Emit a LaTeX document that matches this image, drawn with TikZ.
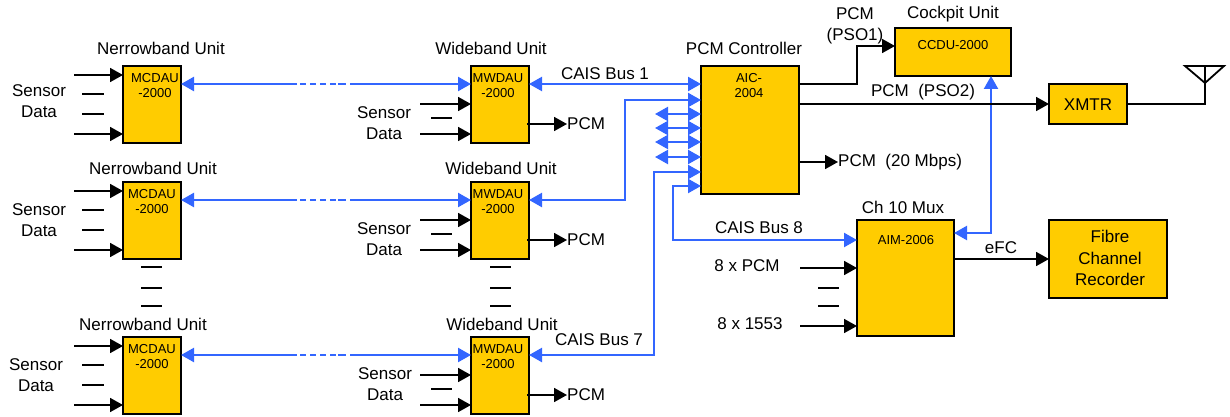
\documentclass[tikz,border=0pt]{standalone}
\usepackage{fontspec}
\usepackage{tikz}
\usetikzlibrary{arrows.meta}
\setmainfont{Liberation Sans}
\definecolor{unitfill}{HTML}{FFCC00}
\definecolor{busblue}{HTML}{3366FF}
\tikzset{
    unitbox/.style={draw=black,line width=2pt,fill=unitfill,inner sep=0pt,outer sep=0pt},
    txt/.style={inner sep=0pt,font=\fontsize{17}{21.5}\selectfont,align=center},
    boxtxt/.style={inner sep=0pt,font=\fontsize{13}{15.5}\selectfont,align=center},
    sig/.style={line width=1.8pt,->},
    tick/.style={line width=1.8pt},
    busline/.style={line width=2.3pt,busblue,<->}
}
\begin{document}
\begin{tikzpicture}[x=1pt,y=-1pt,>={Triangle[length=13pt,width=14pt]}]
    \useasboundingbox (0,0) rectangle (1230,417);
    % three rows of acquisition units
    \foreach \r/\top/\nx/\wx/\ty/\sx/\sy/\wsx/\wsy/\lx in
        {1/66/161/491/48/39/101/384/123/155,
         2/182/153/501/168/39/220/384/239/152,
         3/337/143/502/324/36/375/385/384/152}
    {
        \node[unitbox,minimum width=58,minimum height=76.5,anchor=north] (n\r) at (152,\top) {};
        \node[unitbox,minimum width=58,minimum height=76.5,anchor=north] (w\r) at (500,\top) {};
        \node[txt] (nt\r) at (\nx,\ty) {Nerrowband Unit};
        \node[txt] (wt\r) at (\wx,\ty) {Wideband Unit};
        \node[boxtxt,anchor=north] (nl\r) at (\lx,{\top+7}) {MCDAU\\-2000};
        \node[boxtxt,anchor=north] (wl\r) at (498,{\top+7}) {MWDAU\\-2000};
        \node[txt] (ns\r) at (\sx,\sy) {Sensor\\Data};
        \node[txt] (ws\r) at (\wsx,\wsy) {Sensor\\Data};
        % inputs, narrowband side
        \coordinate (na\r) at (74,{\top+9});
        \coordinate (nb\r) at (74,{\top+68});
        \draw[sig] (na\r) -- (na\r -| n\r.west);
        \draw[sig] (nb\r) -- (nb\r -| n\r.west);
        \draw[tick] (82,{\top+28}) -- (104,{\top+28});
        \draw[tick] (82,{\top+48}) -- (104,{\top+48});
        % inputs, wideband side
        \coordinate (wa\r) at (420,{\top+38});
        \coordinate (wb\r) at (420,{\top+68});
        \draw[sig] (wa\r) -- (wa\r -| w\r.west);
        \draw[sig] (wb\r) -- (wb\r -| w\r.west);
        \draw[tick] (431,{\top+52}) -- (452,{\top+52});
        % pcm output
        \node[txt,anchor=west] (wp\r) at (567,{\top+58}) {PCM};
        \draw[sig,shorten <=-2pt] (w\r.east |- wp\r) -- (wp\r);
        % link between the units
        \coordinate (gapa\r) at (297,{\top+18});
        \coordinate (gapb\r) at (350,{\top+18});
        \draw[busline,->] (gapb\r) -- (gapb\r -| w\r.west);
        \draw[busline,->] (gapa\r) -- (gapa\r -| n\r.east);
        \draw[busline,-,dash pattern=on 0pt off 3pt on 6pt off 4pt on 6pt off 4pt on 6pt off 4pt on 6pt off 2pt on 8pt off 4pt] (gapa\r) -- (gapb\r);
    }
    \foreach \y in {267,288,306}
    {
        \draw[tick] (141,\y) -- (162,\y);
        \draw[tick] (490,\y) -- (511,\y);
    }
    % controller and the other boxes
    \node[unitbox,minimum width=98,minimum height=128,anchor=north] (ctrl) at (750,66) {};
    \node[unitbox,minimum width=116,minimum height=48,anchor=north] (ccdu) at (953,28) {};
    \node[unitbox,minimum width=78,minimum height=40,anchor=north] (xmtr) at (1088,84) {};
    \node[unitbox,minimum width=97,minimum height=116,anchor=north] (mux) at (905.5,220) {};
    \node[unitbox,minimum width=118,minimum height=78,anchor=north] (rec) at (1108,220) {};
    \node[txt] (xmtrl) at (1088,105) {XMTR};
    \node[txt] (recl) at (1110,258) {Fibre\\Channel\\Recorder};
    \node[boxtxt,anchor=north] (ctrll) at (749,73) {AIC-\\2004};
    \node[boxtxt] (ccdul) at (953,45) {CCDU-2000};
    \node[boxtxt] (muxl) at (906,240) {AIM-2006};
    \node[txt] (ctrlt) at (744,48) {PCM Controller};
    \node[txt] (ccdut) at (953,14) {Cockpit Unit};
    \node[txt] (muxt) at (903,207) {Ch 10 Mux};
    % buses to the controller
    \node[txt] (bus1) at (605,74) {CAIS Bus 1};
    \node[txt] (bus7) at (599,340) {CAIS Bus 7};
    \node[txt] (bus8) at (759,228) {CAIS Bus 8};
    \coordinate (cb1) at (600,84);
    \coordinate (cb2a) at (625,100);
    \coordinate (cb2b) at (625,200);
    \coordinate (cb7a) at (654,172);
    \coordinate (cb7b) at (654,355);
    \coordinate (cb8a) at (673,186);
    \coordinate (cb8b) at (673,240);
    \draw[busline] (w1.east |- cb1) -- (cb1 -| ctrl.west);
    \draw[busline] (w2.east |- cb2b) -- (cb2b) -- (cb2a) -- (cb2a -| ctrl.west);
    \draw[busline] (w3.east |- cb7b) -- (cb7b) -- (cb7a) -- (cb7a -| ctrl.west);
    \draw[busline] (cb8a -| ctrl.west) -- (cb8a) -- (cb8b) -- (cb8b -| mux.west);
    \foreach \y in {114,128,142,157}
    {
        \coordinate (stub\y) at (655,\y);
        \draw[busline] (stub\y) -- (stub\y -| ctrl.west);
    }
    \coordinate (efab) at (991,233);
    \draw[busline] (ccdu.south -| efab) -- (efab) -- (efab -| mux.east);
    % controller outputs
    \node[txt] (pso1) at (855,26) {PCM\\(PSO1)};
    \node[txt] (pso2) at (923,92) {PCM\ \ (PSO2)};
    \node[txt,anchor=west] (p20) at (838,162) {PCM\ \ (20 Mbps)};
    \coordinate (psoa) at (857,84);
    \coordinate (psob) at (857,46);
    \coordinate (psoc) at (840,104);
    \draw[sig] (psoa -| ctrl.east) -- (psoa) -- (psob) -- (psob -| ccdu.west);
    \draw[sig] (psoc -| ctrl.east) -- (psoc -| xmtr.west);
    \draw[sig] (p20 -| ctrl.east) -- (p20);
    % antenna
    \coordinate (ant) at (1205,104);
    \coordinate (anttop) at (1205,66);
    \coordinate (antapex) at (1205,83);
    \draw[tick] (xmtr.east |- ant) -- (ant) -- (anttop);
    \draw[tick] (antapex) -- (1185,66) -- (1224,66) -- cycle;
    % mux in and out
    \node[txt] (mxa) at (747,266) {8 x PCM};
    \node[txt] (mxb) at (750,324) {8 x 1553};
    \node[txt] (efc) at (1001,248) {eFC};
    \coordinate (mina) at (800,268);
    \coordinate (minb) at (800,326);
    \draw[sig] (mina) -- (mina -| mux.west);
    \draw[sig] (minb) -- (minb -| mux.west);
    \draw[tick] (818,288) -- (839,288);
    \draw[tick] (818,306) -- (839,306);
    \draw[sig] (mux.east |- rec) -- (rec.west |- rec);
\end{tikzpicture}
\end{document}
